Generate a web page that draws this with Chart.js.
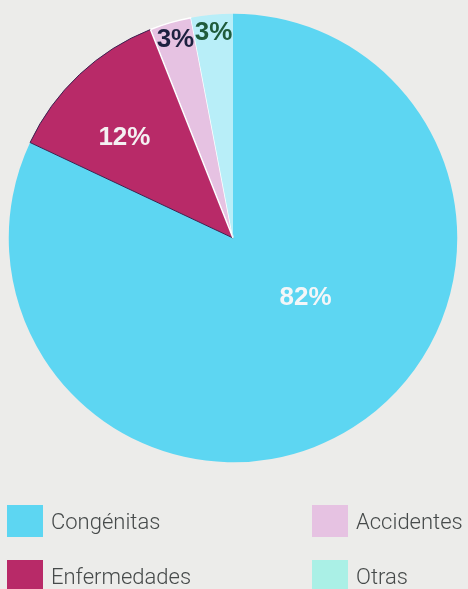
<!DOCTYPE html>
<html lang="es">
<head>
    <meta charset="UTF-8">
    <title>Causas</title>
    <script src="https://cdn.jsdelivr.net/npm/chart.js"></script>
    <style>
        html, body {
            margin: 0;
            padding: 0;
            background: #ececea;
            font-family: 'Roboto', 'Liberation Sans', sans-serif;
        }
        #wrap {
            position: relative;
            width: 468px;
            height: 589px;
            overflow: hidden;
        }
        #chartBox {
            position: absolute;
            left: 0;
            top: 0;
            width: 468px;
            height: 476px;
        }
        #legend {
            position: absolute;
            left: 0;
            top: 0;
            width: 468px;
            height: 589px;
            pointer-events: none;
        }
        .item {
            position: absolute;
            display: flex;
            align-items: center;
            font-weight: 300;
            font-size: 22px;
            color: #464a4a;
        }
        .box {
            width: 36px;
            height: 32px;
            margin-right: 8px;
        }
    </style>
</head>
<body>
<div id="wrap">
    <div id="chartBox"><canvas id="pie"></canvas></div>
    <div id="legend"></div>
</div>

<script>
    const categories = ['Congénitas', 'Enfermedades', 'Accidentes', 'Otras'];
    const values = [82, 12, 3, 3];
    const colors = ['#5dd6f2', '#b82a68', '#e6c2e2', '#b8eef8'];
    const legendColors = ['#5dd6f2', '#b82a68', '#e6c2e2', '#aaf0e6'];

    // texto dentro de cada porción: color, distancia al centro (fracción del radio) y giro en grados
    const labelColors = ['#f4f6f8', '#f4f0f2', '#1d2140', '#1f5b3b'];
    const labelRadius = [0.42, 0.66, 0.92, 0.92];
    const labelShift = [-18, -4, 0, 0];

    const sliceLabels = {
        id: 'sliceLabels',
        afterDatasetsDraw(chart) {
            const ctx = chart.ctx;
            const meta = chart.getDatasetMeta(0);
            ctx.save();
            ctx.font = 'bold 26px "Liberation Sans", Arial, sans-serif';
            ctx.textAlign = 'center';
            ctx.textBaseline = 'middle';
            meta.data.forEach((arc, i) => {
                const a = (arc.startAngle + arc.endAngle) / 2 + labelShift[i] * Math.PI / 180;
                const r = arc.outerRadius * labelRadius[i];
                ctx.fillStyle = labelColors[i];
                ctx.fillText(values[i] + '%', arc.x + Math.cos(a) * r, arc.y + Math.sin(a) * r);
            });
            ctx.restore();
        }
    };

    new Chart(document.getElementById('pie'), {
        type: 'pie',
        data: {
            labels: categories,
            datasets: [{
                data: values,
                backgroundColor: colors,
                borderColor: ['#5dd6f2', '#3b2150', '#ffffff', '#b8eef8'],
                borderWidth: [0, 1, 1.5, 0]
            }]
        },
        options: {
            responsive: true,
            maintainAspectRatio: false,
            animation: false,
            layout: { padding: { top: 13, bottom: 13, left: 8, right: 10 } },
            plugins: {
                legend: { display: false },
                tooltip: { enabled: false }
            }
        },
        plugins: [sliceLabels]
    });

    // leyenda en dos columnas
    const legendPos = [
        { left: 7, top: 505 },
        { left: 7, top: 560 },
        { left: 312, top: 505 },
        { left: 312, top: 560 }
    ];
    const legend = document.getElementById('legend');
    categories.forEach((name, i) => {
        const item = document.createElement('div');
        item.className = 'item';
        item.style.left = legendPos[i].left + 'px';
        item.style.top = legendPos[i].top + 'px';
        item.innerHTML = `<div class="box" style="background:${legendColors[i]}"></div><span>${name}</span>`;
        legend.appendChild(item);
    });
</script>
</body>
</html>
